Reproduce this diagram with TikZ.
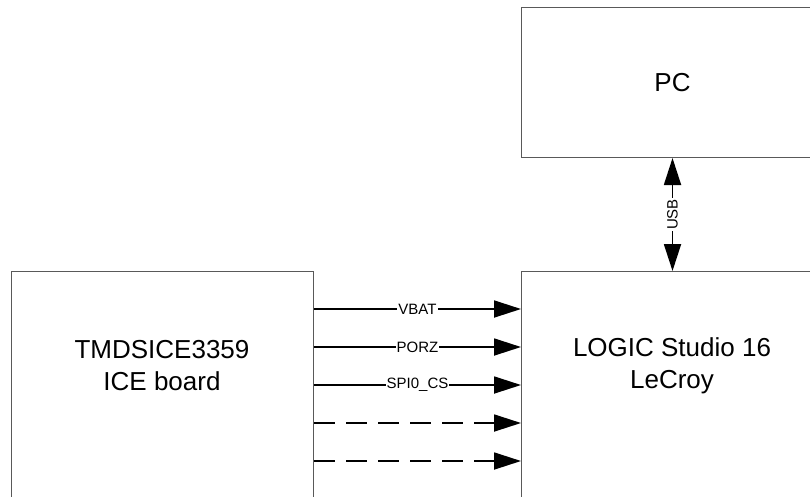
\documentclass[tikz,border=0pt]{standalone}
\usepackage{fontspec}
\setmainfont{Liberation Sans}
\usetikzlibrary{arrows.meta,calc}
\begin{document}
\begin{tikzpicture}[x=1pt,y=-1pt,
  blockbox/.style={draw=black!65, line width=1pt, fill=none, inner sep=0pt, anchor=north west},
  bigtext/.style={font=\fontsize{26}{32}\selectfont, align=center, inner sep=0pt},
  sig/.style={line width=1.8pt, -{Triangle[length=27pt,width=17pt]}},
  sigdash/.style={sig, dash pattern=on 21pt off 11pt},
  usb/.style={line width=1.8pt, {Triangle[length=27pt,width=17pt]}-{Triangle[length=27pt,width=17pt]}},
  siglabel/.style={midway, fill=white, inner sep=1pt, font=\fontsize{15}{15}\selectfont}]
\useasboundingbox (0,0) rectangle (810,496);
\fill[white] (0,0) rectangle (810,496);
\node[blockbox, minimum width=302pt, minimum height=150pt, font=\fontsize{26}{32}\selectfont] (pc) at (521,7) {PC};
\node[blockbox, minimum width=302pt, minimum height=300pt] (ice) at (11,271) {};
\node[blockbox, minimum width=302pt, minimum height=300pt] (logic) at (521,271) {};
\node[bigtext] (icetext) at (162,366) {TMDSICE3359\\ICE board};
\node[bigtext] (logictext) at (672,366) {LOGIC Studio 16\\LeCroy};
\draw[usb] (pc.south) -- (logic.north) node[siglabel, rotate=90] {USB};
\draw[sig] ($(ice.north east)+(0,38)$) -- ($(logic.north west)+(0,38)$) node[siglabel] {VBAT};
\draw[sig] ($(ice.north east)+(0,76)$) -- ($(logic.north west)+(0,76)$) node[siglabel] {PORZ};
\draw[sig] ($(ice.north east)+(0,114)$) -- ($(logic.north west)+(0,114)$) node[siglabel] {SPI0\_CS};
\draw[sigdash] ($(ice.north east)+(0,152)$) -- ($(logic.north west)+(0,152)$);
\draw[sigdash] ($(ice.north east)+(0,190)$) -- ($(logic.north west)+(0,190)$);
\end{tikzpicture}
\end{document}
